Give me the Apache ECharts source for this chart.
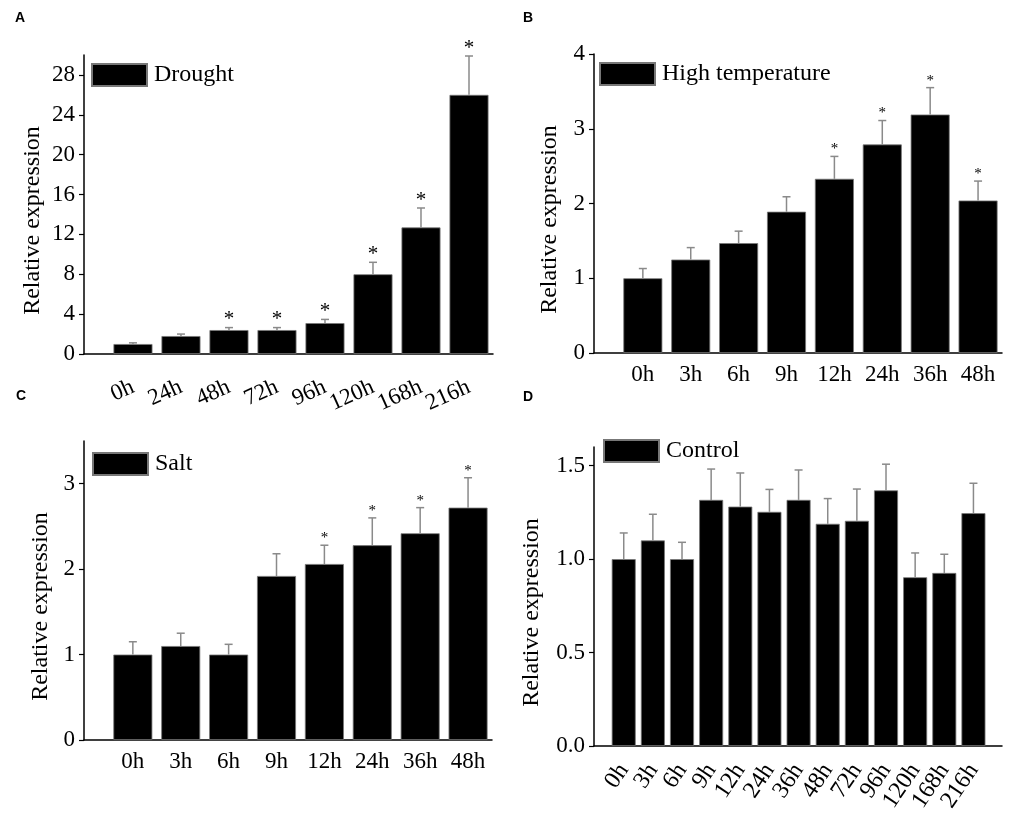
<!DOCTYPE html>
<html>
<head>
<meta charset="utf-8">
<script src="https://cdn.jsdelivr.net/npm/echarts@6/dist/echarts.min.js"></script>
<style>
html,body{margin:0;padding:0;background:#fff;}
#chart{width:1021px;height:830px;}
</style>
</head>
<body>
<div id="chart"></div>
<script>
// ---- Data ----
const catsA = ['0h','24h','48h','72h','96h','120h','168h','216h'];
const valsA = [1.0, 1.8, 2.4, 2.4, 3.1, 8.0, 12.7, 26.0];
const errA  = [0.12, 0.2, 0.25, 0.25, 0.37, 1.2, 1.95, 3.9];
const starA = [0, 0, 1, 1, 1, 1, 1, 1];
const ticksA = [0, 4, 8, 12, 16, 20, 24, 28];

const catsB = ['0h','3h','6h','9h','12h','24h','36h','48h'];
const valsB = [1.0, 1.25, 1.47, 1.89, 2.33, 2.79, 3.19, 2.04];
const errB  = [0.13, 0.16, 0.16, 0.2, 0.3, 0.32, 0.36, 0.26];
const starB = [0, 0, 0, 0, 1, 1, 1, 1];
const ticksB = [0, 1, 2, 3, 4];

const catsC = ['0h','3h','6h','9h','12h','24h','36h','48h'];
const valsC = [1.0, 1.1, 1.0, 1.92, 2.06, 2.28, 2.42, 2.72];
const errC  = [0.15, 0.15, 0.12, 0.26, 0.22, 0.32, 0.30, 0.35];
const starC = [0, 0, 0, 0, 1, 1, 1, 1];
const ticksC = [0, 1, 2, 3];

const catsD = ['0h','3h','6h','9h','12h','24h','36h','48h','72h','96h','120h','168h','216h'];
const valsD = [1.0, 1.1, 1.0, 1.317, 1.281, 1.253, 1.317, 1.189, 1.205, 1.368, 0.903, 0.926, 1.246];
const errD  = [0.14, 0.14, 0.09, 0.165, 0.18, 0.12, 0.16, 0.135, 0.17, 0.14, 0.13, 0.10, 0.16];
const starD = [0, 0, 0, 0, 0, 0, 0, 0, 0, 0, 0, 0, 0];
const ticksD = [0, 0.5, 1.0, 1.5];

const seriesNames = ['Drought', 'High temperature', 'Salt', 'Control'];
const panelLetters = ['A', 'B', 'C', 'D'];

// ---- Layout ----
const SERIF = 'Liberation Serif';
const panels = [
  {cats:catsA, vals:valsA, errs:errA, stars:starA, ticks:ticksA, yMax:30, dec:0,
   grid:{left:84, top:55, width:409, height:299}, xMin:-1.02, xMax:7.5, barWidth:39,
   rotate:24, xMargin:32, xFont:23, legend:{left:91, top:63}, nameGap:39, starFont:21, starOff:8,
   letter:{x:15, y:11}},
  {cats:catsB, vals:valsB, errs:errB, stars:starB, ticks:ticksB, yMax:4, dec:0,
   grid:{left:594, top:54, width:408, height:299}, xMin:-1.02, xMax:7.5, barWidth:39,
   rotate:0, xMargin:10, xFont:23, legend:{left:599, top:62}, nameGap:32, starFont:15, starOff:7,
   letter:{x:523, y:11}},
  {cats:catsC, vals:valsC, errs:errC, stars:starC, ticks:ticksC, yMax:3.5, dec:0,
   grid:{left:84, top:441, width:408, height:299}, xMin:-1.02, xMax:7.5, barWidth:39,
   rotate:0, xMargin:10, xFont:23, legend:{left:92, top:452}, nameGap:31, starFont:15, starOff:7,
   letter:{x:16, y:389}},
  {cats:catsD, vals:valsD, errs:errD, stars:starD, ticks:ticksD, yMax:1.6, dec:1,
   grid:{left:594, top:447, width:408, height:299}, xMin:-1.02, xMax:12.98, barWidth:24,
   rotate:56, xMargin:20, xFont:24, legend:{left:603, top:439}, nameGap:50, starFont:15, starOff:7,
   letter:{x:523, y:390}}
];

const grids = [], xAxes = [], yAxes = [], series = [], legends = [], graphics = [];

panels.forEach((p, k) => {
  grids.push(Object.assign({containLabel:false}, p.grid));
  // label positions: one per category, plus empty guard labels at both ends
  const labelPos = [p.xMin].concat(p.cats.map((_, i) => i), [p.xMax]);
  xAxes.push({
    type:'value', gridIndex:k, min:p.xMin, max:p.xMax,
    axisLine:{show:true, onZero:false, lineStyle:{color:'#000', width:1.5}},
    axisTick:{show:false},
    splitLine:{show:false},
    axisLabel:{
      customValues: labelPos, rotate:p.rotate, margin:p.xMargin,
      hideOverlap:false,
      color:'#000', fontFamily:SERIF, fontSize:p.xFont,
      formatter:(v) => (Number.isInteger(v) && p.cats[v] !== undefined) ? p.cats[v] : ''
    }
  });
  yAxes.push({
    type:'value', gridIndex:k, min:0, max:p.yMax,
    name:'Relative expression', nameLocation:'middle', nameGap:p.nameGap,
    nameTextStyle:{color:'#000', fontFamily:SERIF, fontSize:24, padding:[0, 32, 0, 0]},
    axisLine:{show:true, onZero:false, lineStyle:{color:'#000', width:1.5}},
    axisTick:{show:true, customValues:p.ticks, length:5, lineStyle:{color:'#000', width:1.2}},
    splitLine:{show:false},
    axisLabel:{customValues:p.ticks, margin:9, color:'#000', fontFamily:SERIF, fontSize:23,
      showMinLabel:true, showMaxLabel:true,
      formatter:(v) => Number(v).toFixed(p.dec)}
  });
  series.push({
    name: seriesNames[k], type:'bar', xAxisIndex:k, yAxisIndex:k,
    barWidth:p.barWidth,
    itemStyle:{color:'#000', borderColor:'#777', borderWidth:0.8},
    data: p.vals.map((v, i) => [i, v]),
    z:2
  });
  series.push({
    type:'custom', xAxisIndex:k, yAxisIndex:k, silent:true, z:3,
    data: p.vals.map((v, i) => [i, v, p.errs[i]]),
    renderItem:(params, api) => {
      const x = api.value(0), v = api.value(1), e = api.value(2);
      const a = api.coord([x, v]);
      const b = api.coord([x, v + e]);
      const st = {stroke:'#8a8a8a', lineWidth:1.5};
      return {type:'group', children:[
        {type:'line', shape:{x1:a[0], y1:a[1], x2:b[0], y2:b[1]}, style:st},
        {type:'line', shape:{x1:b[0]-4, y1:b[1], x2:b[0]+4, y2:b[1]}, style:st}
      ]};
    }
  });
  series.push({
    type:'custom', xAxisIndex:k, yAxisIndex:k, silent:true, z:3,
    data: p.vals.map((v, i) => [i, v + p.errs[i]]).filter((_, i) => p.stars[i]),
    renderItem:(params, api) => {
      const c = api.coord([api.value(0), api.value(1)]);
      return {type:'text', style:{text:'*', x:c[0], y:c[1] - p.starOff,
        align:'center', verticalAlign:'middle',
        font: p.starFont + 'px "' + SERIF + '"', fill:'#000'}};
    }
  });
  legends.push({
    data:[seriesNames[k]], left:p.legend.left, top:p.legend.top, padding:0,
    itemWidth:55, itemHeight:22, selectedMode:false, icon:'rect',
    textStyle:{color:'#000', fontFamily:SERIF, fontSize:24, padding:[0,0,0,2]}
  });
  graphics.push({type:'text', left:p.letter.x, top:p.letter.y,
    style:{text:panelLetters[k], font:'bold 14px "Liberation Sans"', fill:'#000'}});
});

const chart = echarts.init(document.getElementById('chart'));
chart.setOption({
  backgroundColor:'#fff',
  animation:false,
  grid:grids, xAxis:xAxes, yAxis:yAxes, series:series, legend:legends, graphic:graphics
});
</script>
</body>
</html>
